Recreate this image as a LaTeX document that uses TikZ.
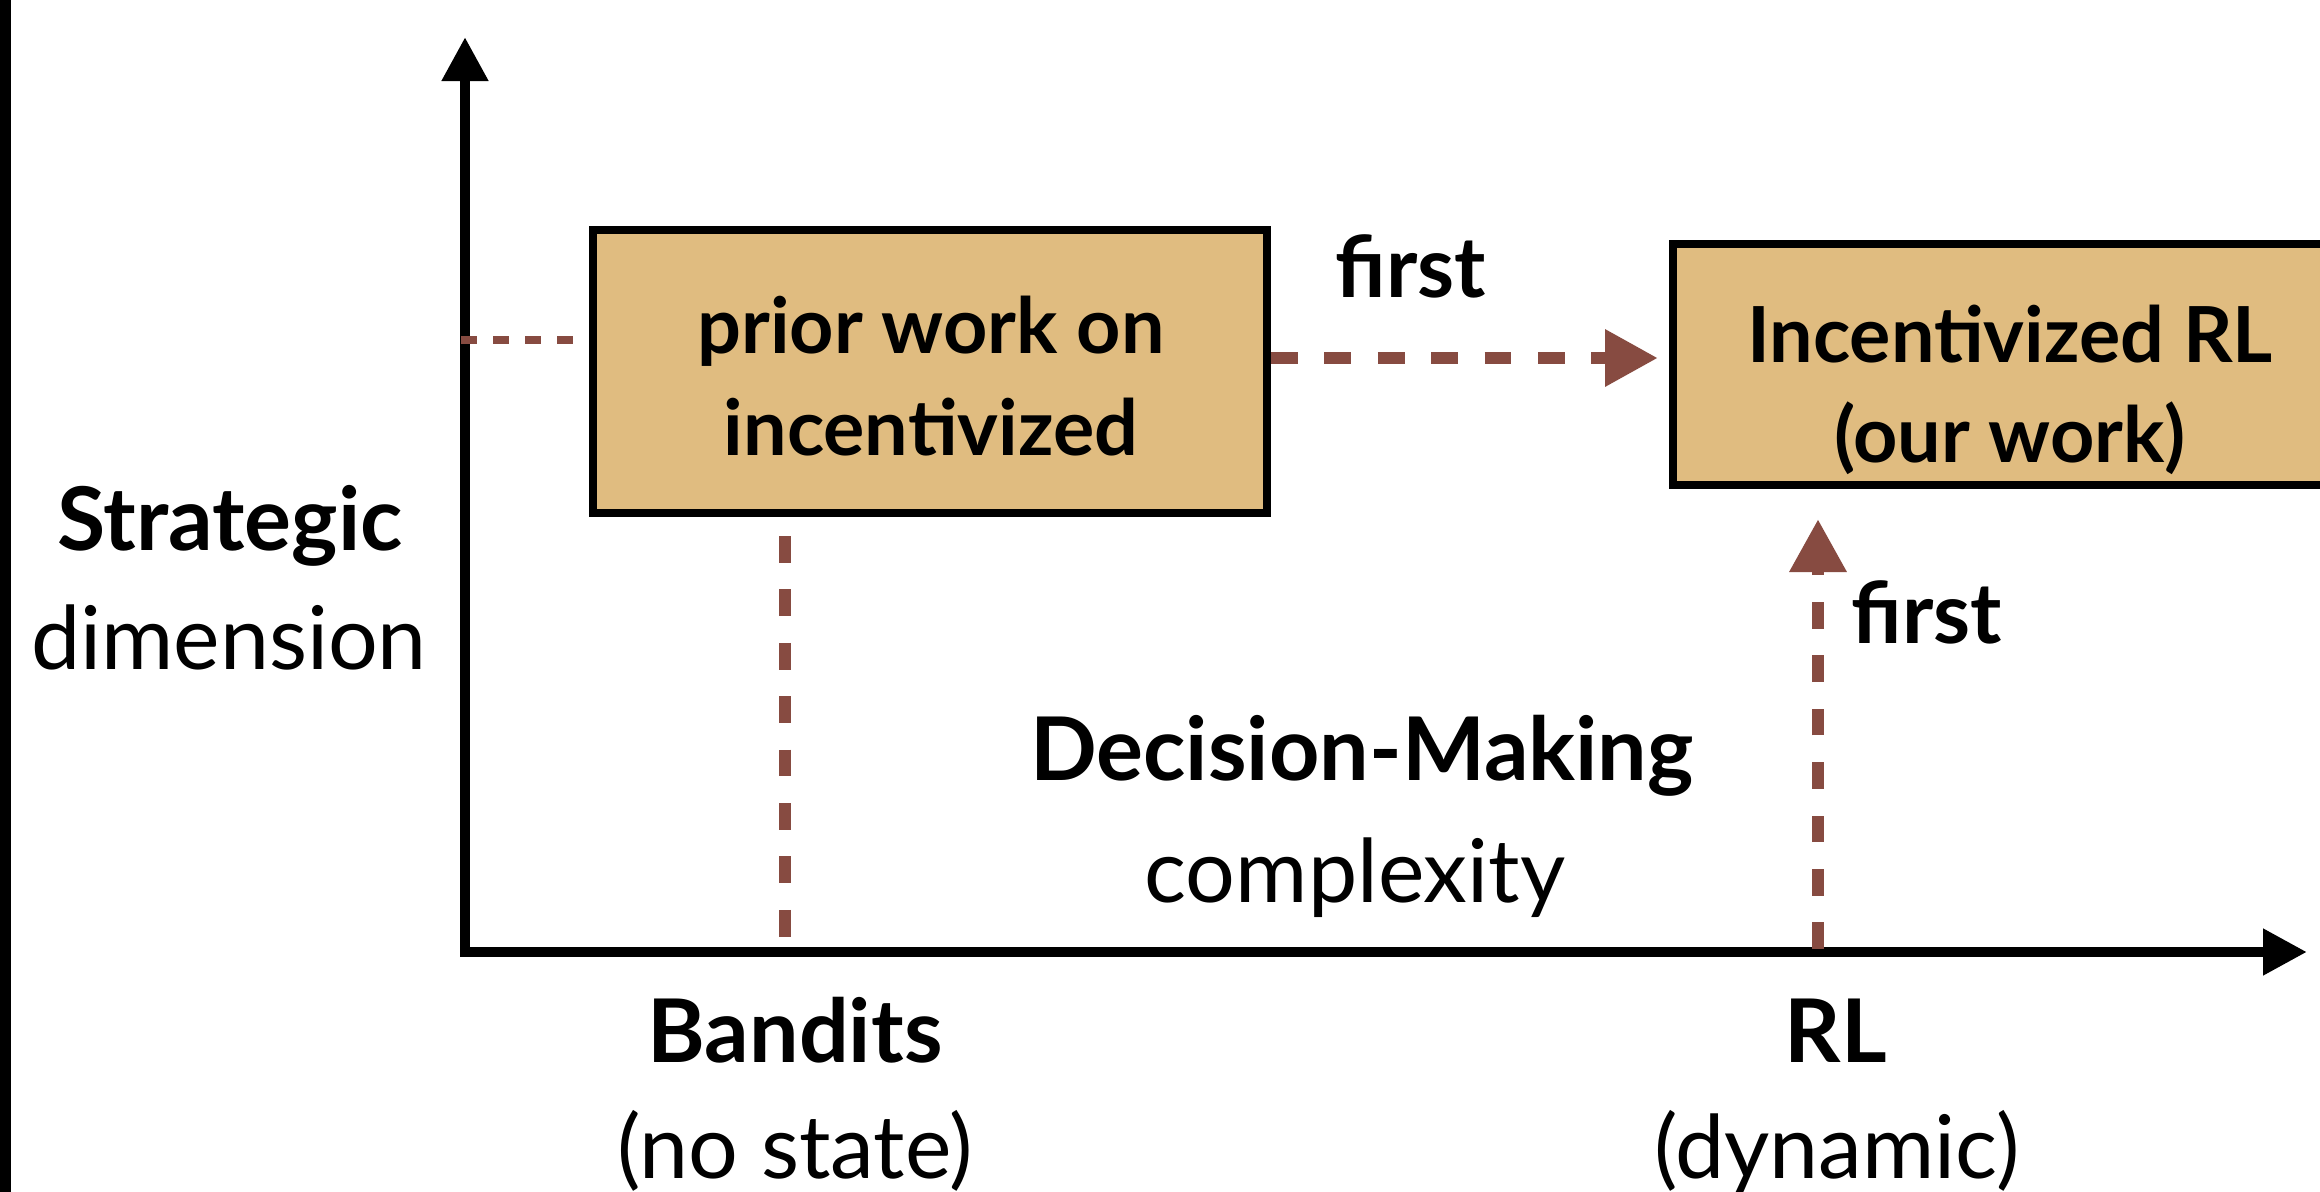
\documentclass[tikz,border=0pt]{standalone}
\usepackage{fontspec}
\setmainfont{Lato}
\usepackage{tikz}
\usetikzlibrary{arrows.meta, positioning, calc}
\definecolor{boxtan}{HTML}{E0BC80}
\definecolor{trailbrown}{HTML}{874B41}
\tikzset{
  axisline/.style={line width=0.107cm, {Triangle[length=0.44cm,width=0.44cm]}-{Triangle[length=0.44cm,width=0.44cm]}},
  workbox/.style={draw, fill=boxtan, line width=0.077cm, minimum width=6.743cm, inner sep=0pt},
  guide/.style={trailbrown, line width=0.085cm, dash pattern=on 0.16cm off 0.16cm},
  trail/.style={trailbrown, line width=0.127cm, dash pattern=on 0.267cm off 0.267cm},
  trailtip/.style={trail, -{Triangle[length=0.53cm,width=0.54cm]}},
  boxlbl/.style={font=\fontsize{22}{22}\selectfont\bfseries, anchor=base, inner sep=0pt},
  boldlbl/.style={font=\fontsize{25}{25}\selectfont\bfseries, anchor=base, inner sep=0pt},
  plainlbl/.style={font=\fontsize{25}{25}\selectfont, anchor=base, inner sep=0pt},
  steplbl/.style={font=\fontsize{24}{24}\selectfont\bfseries, anchor=base, inner sep=0pt}
}

\begin{document}
\begin{tikzpicture}
  \useasboundingbox (0,0) rectangle (23.2,-11.92);

  % Left edge bar
  \fill[black] (0,0) rectangle (0.107,-11.92);

  % Axes
  \coordinate (origin) at (4.65,-9.52);
  \coordinate (ytip) at (4.65,-0.37);
  \coordinate (xtip) at (23.07,-9.52);
  \draw[axisline] (ytip) -- (origin) -- (xtip);

  % Work boxes
  \node[workbox, minimum height=2.833cm] (prior) at (9.30,-3.715) {};
  \node[workbox, minimum height=2.413cm] (ours) at (20.10,-3.645) {};

  % Box texts
  \foreach \nm/\x/\y/\txt in {priorA/9.31/-3.53/prior work on, priorB/9.31/-4.55/incentivized,
                             oursA/20.10/-3.62/Incentivized RL, oursB/20.10/-4.62/(our work)}
    \node[boxlbl] (\nm) at (\x,\y) {\txt};

  % Axis labels
  \foreach \nm/\x/\y/\txt in {strat/2.30/-5.50/Strategic, decis/13.62/-7.80/Decision-Making,
                             bandit/7.95/-10.62/Bandits, rl/18.36/-10.62/RL}
    \node[boldlbl] (\nm) at (\x,\y) {\txt};
  \foreach \nm/\x/\y/\txt in {dimen/2.29/-6.69/dimension, cmplx/13.55/-9.02/complexity,
                             nostate/7.95/-11.78/(no state), dynam/18.37/-11.78/(dynamic)}
    \node[plainlbl] (\nm) at (\x,\y) {\txt};

  % Guide from the strategic axis
  \coordinate (ytick) at (4.61,-3.40);
  \draw[guide, shorten >=0.15cm] (ytick) -- (prior.west |- ytick);

  % Bandits column
  \coordinate (bandx) at (7.85,-9.52);
  \draw[trail, shorten <=0.19cm] (bandx |- prior.south) -- (bandx);

  % First step: strategic
  \draw[trailtip, shorten >=0.11cm] ([yshift=0.135cm]prior.east) -- ([yshift=0.065cm]ours.west);
  \node[steplbl] (firstA) at (14.11,-2.97) {first};

  % First step: decision-making
  \coordinate (rlx) at (18.18,-9.49);
  \draw[trailtip, shorten >=0.30cm] (rlx) -- (rlx |- ours.south);
  \node[steplbl, anchor=base west] (firstB) at (18.51,-6.43) {first};
\end{tikzpicture}
\end{document}
